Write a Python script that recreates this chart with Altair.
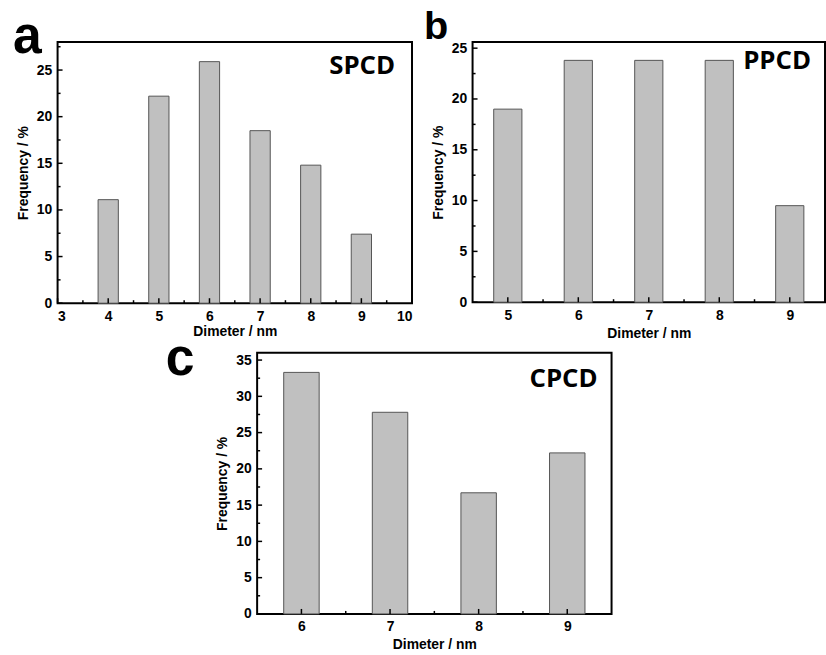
import altair as alt
import pandas as pd

# Panel a (SPCD)
a_d = [4, 5, 6, 7, 8, 9]
a_f = [11.1, 22.2, 25.9, 18.5, 14.8, 7.4]
# Panel b (PPCD)
b_d = [5, 6, 7, 8, 9]
b_f = [19.0, 23.8, 23.8, 23.8, 9.5]
# Panel c (CPCD)
c_d = [6, 7, 8, 9]
c_f = [33.3, 27.8, 16.7, 22.2]

a_xmaj = [3, 4, 5, 6, 7, 8, 9, 10]
a_xmin = [3.5, 4.5, 5.5, 6.5, 7.5, 8.5, 9.5]
a_ymaj = [0, 5, 10, 15, 20, 25]
a_ymin = [2.5, 7.5, 12.5, 17.5, 22.5, 27.5]

b_xmaj = [5, 6, 7, 8, 9]
b_xmin = [5.5, 6.5, 7.5, 8.5]
b_ymaj = [0, 5, 10, 15, 20, 25]
b_ymin = [2.5, 7.5, 12.5, 17.5, 22.5]

c_xmaj = [6, 7, 8, 9]
c_xmin = [6.5, 7.5, 8.5]
c_ymaj = [0, 5, 10, 15, 20, 25, 30, 35]
c_ymin = [2.5, 7.5, 12.5, 17.5, 22.5, 27.5, 32.5]

FONT = "Liberation Sans"
LABEL_FONT = "Open Sans"


def panel(d, f, xdom, ydom, xmaj, xmin, ymaj, ymin, w, h,
          name, name_dx, name_y, letter, letter_size, lx, ly, xtp):
    df = pd.DataFrame({"d": d, "f": f})
    xs = alt.Scale(domain=xdom, nice=False, zero=False)
    ys = alt.Scale(domain=ydom, nice=False)
    xax = alt.Axis(values=xmaj, title="Dimeter / nm", labelPadding=6, titlePadding=xtp)
    yax = alt.Axis(values=ymaj, title="Frequency / %", labelPadding=6, titlePadding=6)

    bars = alt.Chart(df).transform_calculate(
        x0="datum.d - 0.2", x1="datum.d + 0.2"
    ).mark_bar(color="#c0c0c0", stroke="#555555", strokeWidth=1).encode(
        x=alt.X("x0:Q", scale=xs, axis=xax),
        x2="x1:Q",
        y=alt.Y("f:Q", scale=ys, axis=yax),
        y2=alt.datum(0),
    )

    def xticks(vals, ln):
        return alt.Chart(pd.DataFrame({"x0": vals})).mark_rule(
            color="black", strokeWidth=1.5
        ).encode(
            x=alt.X("x0:Q", scale=xs, axis=xax),
            y=alt.value(h),
            y2=alt.value(h - ln),
        )

    def yticks(vals, ln):
        return alt.Chart(pd.DataFrame({"f": vals})).mark_rule(
            color="black", strokeWidth=1.5
        ).encode(
            y=alt.Y("f:Q", scale=ys, axis=yax),
            x=alt.value(0),
            x2=alt.value(ln),
        )

    name_txt = alt.Chart(pd.DataFrame({"t": [name]})).mark_text(
        font=LABEL_FONT, fontSize=26, fontWeight="bold", align="right",
        baseline="alphabetic", color="black"
    ).encode(x=alt.value(w - name_dx), y=alt.value(name_y), text="t:N")

    letter_txt = alt.Chart(pd.DataFrame({"t": [letter]})).mark_text(
        font=FONT, fontSize=letter_size, fontWeight="bold", align="left",
        baseline="alphabetic", color="black"
    ).encode(x=alt.value(lx), y=alt.value(ly), text="t:N")

    return alt.layer(
        bars, xticks(xmaj, 5), xticks(xmin, 3), yticks(ymaj, 5), yticks(ymin, 3),
        name_txt, letter_txt
    ).properties(width=w, height=h)


pa = panel(a_d, a_f, [3, 10], [0, 28], a_xmaj, a_xmin, a_ymaj, a_ymin, 357, 263,
           "SPCD", 17, 32, "a", 52, -45, 11, 2)
pb = panel(b_d, b_f, [4.5, 9.5], [0, 25.6], b_xmaj, b_xmin, b_ymaj, b_ymin, 355, 262,
           "PPCD", 14, 27, "b", 40, -49, -3, 5)
pc = panel(c_d, c_f, [5.5, 9.5], [0, 36], c_xmaj, c_xmin, c_ymaj, c_ymin, 357, 263,
           "CPCD", 14, 34, "c", 52, -92, 22, 4)

spacer = alt.Chart(pd.DataFrame({"v": [0]})).mark_point(opacity=0).encode(
    x=alt.value(0), y=alt.value(0)
).properties(width=201, height=10, view=alt.ViewBackground(stroke=None))

top = alt.hconcat(pa, pb, spacing=61, bounds="flush")
bottom = alt.hconcat(spacer, pc, spacing=0, bounds="flush")

chart = alt.vconcat(top, bottom, spacing=-10).properties(
    padding={"left": 12, "top": 4, "right": 0, "bottom": 0},
    background="white",
).configure_view(
    stroke="black", strokeWidth=2
).configure_axis(
    labelFont=FONT, labelFontSize=14, labelFontWeight="bold", labelColor="black",
    titleFont=FONT, titleFontSize=14, titleFontWeight="bold", titleColor="black",
    ticks=False, domain=False, grid=False
)

chart.save("out.html", embed_options={"renderer": "svg", "actions": False})
